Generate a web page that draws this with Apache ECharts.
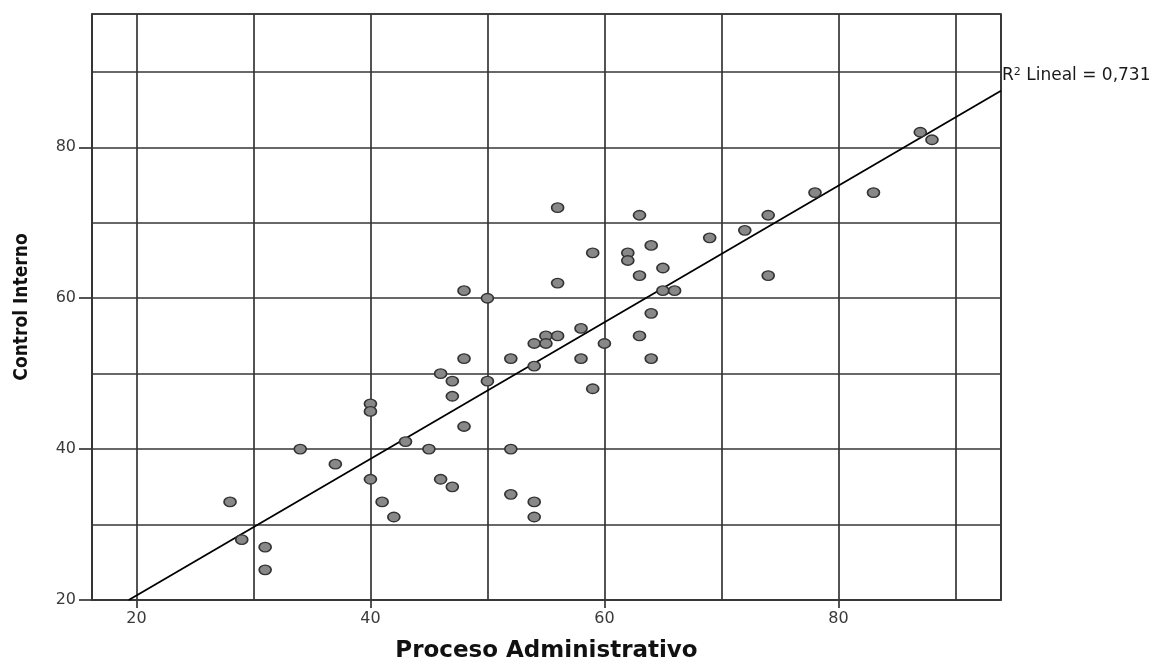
<!DOCTYPE html>
<html>
<head>
<meta charset="utf-8">
<script src="https://cdn.jsdelivr.net/npm/echarts@6/dist/echarts.min.js"></script>
<style>
html,body{margin:0;padding:0;background:#fff;}
#chart{width:1155px;height:658px;}
</style>
</head>
<body>
<div id="chart"></div>
<script>
// Proceso Administrativo (x) vs Control Interno (y)
const procesoAdministrativo = [28,29,31,31,34,37,40,40,40,41,42,43,45,46,46,47,47,47,48,48,48,50,50,52,52,52,54,54,54,54,55,55,56,56,56,58,58,59,59,60,62,62,63,63,63,64,64,64,65,65,66,69,72,74,74,78,83,87,88];
const controlInterno      = [33,28,27,24,40,38,46,45,36,33,31,41,40,36,50,49,47,35,61,52,43,60,49,52,40,34,54,51,33,31,55,54,72,62,55,56,52,66,48,54,66,65,71,63,55,67,58,52,64,61,61,68,69,71,63,74,74,82,81];
const xTickLabels = [20, 40, 60, 80];
const yTickLabels = [20, 40, 60, 80];
const fitIntercept = 2.49;
const fitSlope = 0.9053;
const r2Text = '0,731';

const X_MIN = 16.2, X_MAX = 93.9, Y_MIN = 20, Y_MAX = 97.67;

const points = procesoAdministrativo.map((x, i) => [x, controlInterno[i]]);
const xStart = (Y_MIN - fitIntercept) / fitSlope;
const fitLine = [[xStart, fitIntercept + fitSlope * xStart], [X_MAX, fitIntercept + fitSlope * X_MAX]];

const gridColor = '#363636';
const lw = 1.7;
const tickFont = {fontFamily: 'DejaVu Sans', fontSize: 16, color: '#3a3a3a'};

const chart = echarts.init(document.getElementById('chart'), null, {renderer: 'canvas'});
chart.setOption({
  animation: false,
  backgroundColor: '#ffffff',
  grid: {left: 92, right: 154, top: 14, bottom: 58, show: true, borderColor: gridColor, borderWidth: lw,
         containLabel: false, outerBoundsMode: 'none'},
  xAxis: [
    {
      type: 'value', min: X_MIN, max: X_MAX, splitNumber: 8, position: 'bottom',
      name: 'Proceso Administrativo', nameLocation: 'middle', nameGap: 40,
      nameTextStyle: {fontFamily: 'DejaVu Sans', fontWeight: 'bold', fontSize: 23, color: '#111'},
      axisLine: {show: true, lineStyle: {color: gridColor, width: lw}},
      axisTick: {show: true, length: 8, customValues: xTickLabels, lineStyle: {color: gridColor, width: lw}},
      axisLabel: Object.assign({customValues: xTickLabels, margin: 11}, tickFont),
      splitLine: {show: false}
    },
    {
      type: 'value', min: X_MIN, max: X_MAX, splitNumber: 8, position: 'top',
      axisLine: {show: false}, axisTick: {show: false}, axisLabel: {show: false},
      splitLine: {show: true, lineStyle: {color: gridColor, width: lw}}
    }
  ],
  yAxis: [
    {
      type: 'value', min: Y_MIN, max: Y_MAX, interval: 10, position: 'left',
      name: 'Control Interno', nameLocation: 'middle', nameGap: 60, nameRotate: 90,
      nameTextStyle: {fontFamily: '"DejaVu Sans Condensed", "Liberation Sans", sans-serif', fontWeight: 'bold', fontSize: 19, color: '#111'},
      axisLine: {show: true, lineStyle: {color: gridColor, width: lw}},
      axisTick: {show: true, length: 13, customValues: yTickLabels, lineStyle: {color: gridColor, width: lw}},
      axisLabel: Object.assign({customValues: yTickLabels, margin: 16}, tickFont),
      splitLine: {show: false}
    },
    {
      type: 'value', min: Y_MIN, max: Y_MAX, interval: 10, position: 'right',
      axisLine: {show: false}, axisTick: {show: false}, axisLabel: {show: false},
      splitLine: {show: true, lineStyle: {color: gridColor, width: lw}}
    }
  ],
  series: [
    {
      type: 'line', data: fitLine, symbol: 'none', silent: true, z: 3,
      xAxisIndex: 0, yAxisIndex: 0,
      lineStyle: {color: '#000', width: 1.8},
      endLabel: {
        show: true, offset: [-2, -15], distance: 3,
        formatter: () => '{r|R}{s|2}{r| Lineal = ' + r2Text + '}',
        rich: {
          r: {fontFamily: 'DejaVu Sans', fontSize: 17, color: '#1a1a1a'},
          s: {fontFamily: 'DejaVu Sans', fontSize: 11, color: '#1a1a1a', verticalAlign: 'top', padding: [0, 0, 8, 0]}
        }
      }
    },
    {
      type: 'scatter', data: points, symbol: 'circle', symbolSize: [12, 9.5], z: 4,
      xAxisIndex: 0, yAxisIndex: 0,
      itemStyle: {color: '#888888', borderColor: '#333333', borderWidth: 1.5, opacity: 1}
    }
  ]
});
</script>
</body>
</html>
